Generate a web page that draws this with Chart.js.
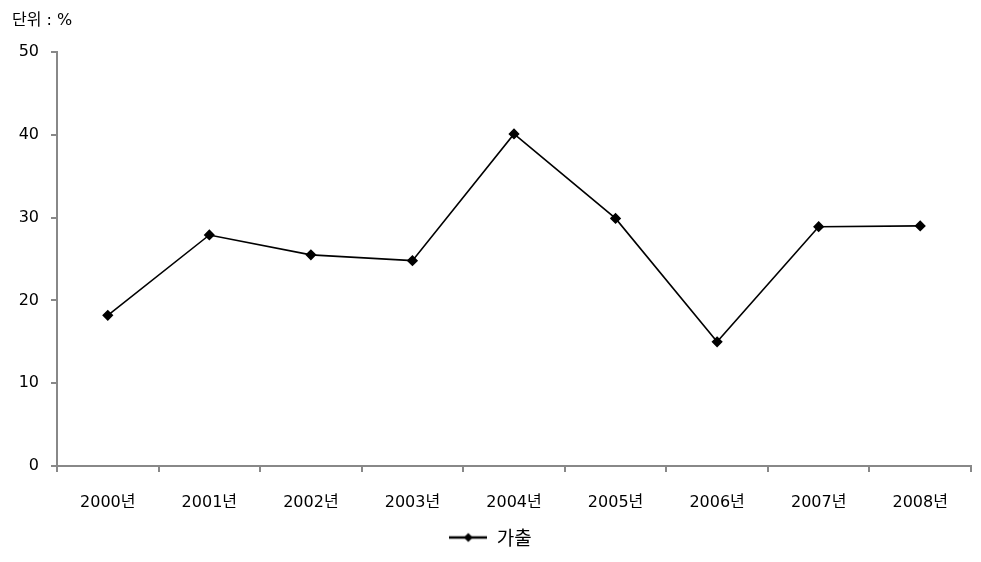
<!DOCTYPE html>
<html><head><meta charset="utf-8">
<script src="https://cdn.jsdelivr.net/npm/chart.js@4/dist/chart.umd.min.js"></script>
<style>
html,body{margin:0;padding:0;background:#fff;}
#wrap{position:relative;width:981px;height:562px;}
#unit{position:absolute;left:12px;top:6px;font-family:"DejaVu Sans","Noto Sans CJK KR",sans-serif;font-size:16px;color:#000;}
canvas{position:absolute;left:0;top:0;}
</style></head>
<body>
<div id="wrap"><canvas id="c" width="981" height="562"></canvas><div id="unit">단위 : %</div></div>
<script>
const categories = ["2000년","2001년","2002년","2003년","2004년","2005년","2006년","2007년","2008년"];
const seriesName = "가출";
const values = [18.2, 27.9, 25.5, 24.8, 40.1, 29.9, 15.0, 28.9, 29.0];
const yTicks = [0,10,20,30,40,50];

const FONT = '"DejaVu Sans","Noto Sans CJK KR",sans-serif';
const KFONT = '"Noto Sans CJK KR","Noto Sans",sans-serif';
// legend symbol: line with diamond
const sym = document.createElement('canvas');
sym.width = 38; sym.height = 12;
(function(){const g=sym.getContext('2d');g.strokeStyle='#000';g.lineWidth=2.5;g.beginPath();g.moveTo(0,6);g.lineTo(38,6);g.stroke();
g.fillStyle='#000';g.beginPath();g.moveTo(19,1.5);g.lineTo(23.5,6);g.lineTo(19,10.5);g.lineTo(14.5,6);g.closePath();g.fill();})();

new Chart(document.getElementById('c'), {
  type: 'line',
  data: { labels: categories, datasets: [{
    label: seriesName, data: values,
    borderColor: '#000', backgroundColor: '#000', borderWidth: 1.6,
    pointStyle: 'rectRot', pointRadius: 4.5, pointBackgroundColor: '#000', pointBorderColor:'#000',
    tension: 0, fill: false
  }]},
  options: {
    responsive: false, animation: false, devicePixelRatio: 1,
    layout: { padding: { top: 52, left: 10, right: 10, bottom: 5 } },
    plugins: {
      tooltip: { enabled: false },
      legend: { position: 'bottom', labels: { usePointStyle: true, pointStyle: sym, pointStyleWidth: 38, color:'#000', font: { family: KFONT, size: 19 }, padding: 6,
        generateLabels: (ch) => [{ text: seriesName, pointStyle: sym, fillStyle:'#000', strokeStyle:'#000', lineWidth:0, datasetIndex:0, fontColor:'#000' }] } }
    },
    scales: {
      x: { offset: true,
        grid: { display: true, offset: true, drawOnChartArea: false, drawTicks: true, tickLength: 6, color: '#888', lineWidth: 2 },
        border: { color: '#888', width: 2 },
        ticks: { color: '#000', font: { family: FONT, size: 16 }, padding: 21, maxRotation: 0 },
        afterFit: (s) => { s.height = 56; }
      },
      y: { min: 0, max: 50,
        afterBuildTicks: (s) => { s.ticks = yTicks.map(v => ({ value: v })); },
        grid: { display: true, drawOnChartArea: false, drawTicks: true, tickLength: 6, color: '#888', lineWidth: 2 },
        border: { color: '#888', width: 2 },
        ticks: { color: '#000', font: { family: FONT, size: 16 }, padding: 12 },
        afterFit: (s) => { s.width = 47; }
      }
    }
  }
});
</script>
</body></html>
